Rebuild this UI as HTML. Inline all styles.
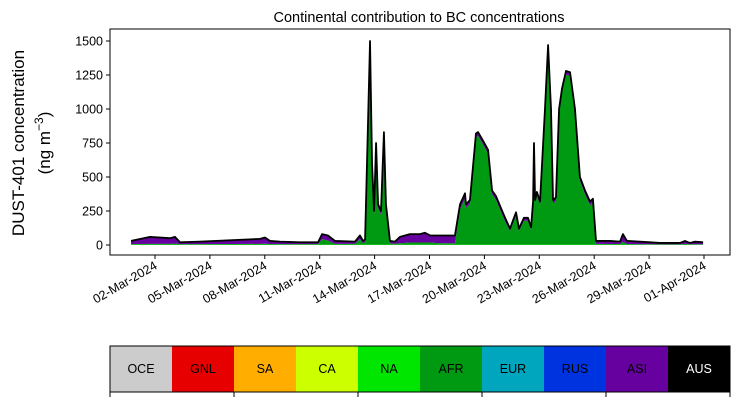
<!DOCTYPE html>
<html><head><meta charset="utf-8"><style>
body{margin:0;background:#fff;}
svg{display:block;font-family:"Liberation Sans","DejaVu Sans",sans-serif;}
</style></head><body>
<svg id="chart" width="739" height="402" viewBox="0 0 739 402">
<rect width="739" height="402" fill="#fff"/>
<text x="419" y="22" font-size="14.5" text-anchor="middle">Continental contribution to BC concentrations</text>
<text transform="translate(24,143) rotate(-90)" font-size="17" text-anchor="middle">DUST-401 concentration</text>
<text transform="translate(50,143) rotate(-90)" font-size="17" text-anchor="middle">(ng m<tspan baseline-shift="super" font-size="12">−3</tspan>)</text>
<g id="plot"></g>
<g id="cbar"></g>
</svg>
<script>
const days=[0.69,1.73,2.82,3.09,3.37,4.46,6.10,7.74,8.01,8.28,8.83,9.92,10.91,11.13,11.45,11.84,12.93,13.20,13.37,13.48,13.64,13.75,13.86,13.97,14.08,14.19,14.35,14.51,14.62,14.84,15.11,15.39,15.93,16.48,16.75,17.03,17.57,18.39,18.67,18.94,18.99,19.21,19.54,19.65,19.87,20.20,20.42,20.63,21.13,21.40,21.56,21.73,21.89,22.16,22.38,22.55,22.66,22.71,22.77,22.87,23.04,23.31,23.48,23.64,23.75,23.91,24.08,24.24,24.46,24.68,24.95,25.22,25.50,25.77,25.93,26.10,26.86,27.41,27.57,27.79,28.50,29.60,30.69,30.96,31.23,31.51,31.95];
const totals=[30,60,50,60,20,25,35,45,55,30,25,20,20,80,70,30,25,70,30,40,900,1500,600,250,750,300,250,830,300,30,25,60,80,80,90,70,70,70,300,380,300,330,820,830,780,700,400,360,200,120,180,240,120,200,200,130,320,750,330,390,320,1000,1470,1000,330,350,1000,1150,1280,1270,1000,500,400,320,340,30,30,25,80,30,25,15,15,30,15,25,20];
const afrVals=[3,5,5,8,3,3,4,5,6,4,3,3,3,40,30,5,5,40,10,20,860,1460,570,220,720,270,220,800,270,10,5,10,15,15,15,15,10,10,260,340,270,300,790,800,750,670,370,330,170,100,155,215,100,175,175,110,290,720,300,360,290,970,1440,970,300,320,970,1120,1250,1240,970,470,370,290,310,5,4,4,20,4,3,2,2,5,2,3,2];
const naVals=[3,3,3,3,3,3,3,3,3,3,3,3,3,3,3,3,3,3,3,3,3,3,3,3,3,3,3,3,3,3,3,3,3,3,3,3,3,3,3,3,3,3,3,3,3,3,3,3,3,3,3,3,3,3,3,3,3,3,3,3,3,3,3,3,3,3,3,3,3,3,3,3,3,3,3,3,3,3,3,3,3,3,3,3,3,3,3];
const yTicks=[0,250,500,750,1000,1250,1500];
const xTickDays=[2,5,8,11,14,17,20,23,26,29,32];
const xTickLabels=["02-Mar-2024","05-Mar-2024","08-Mar-2024","11-Mar-2024","14-Mar-2024","17-Mar-2024","20-Mar-2024","23-Mar-2024","26-Mar-2024","29-Mar-2024","01-Apr-2024"];
const regions=["OCE","GNL","SA","CA","NA","AFR","EUR","RUS","ASI","AUS"];
const regionColors=["#cccccc","#e60000","#ffae00","#ccff00","#00e600","#009912","#00a6bd","#0033e0","#66009e","#000000"];

const NS="http://www.w3.org/2000/svg";
const L=110,R=730,T=29,B=255;
const X=d=>155+(d-2)*18.3;
const Y=v=>245-v*0.136;
function mk(tag,attrs,parent){const e=document.createElementNS(NS,tag);for(const k in attrs)e.setAttribute(k,attrs[k]);parent.appendChild(e);return e;}
const plot=document.getElementById('plot');
function band(lo,hi,color,name){
  let d="M"+X(days[0])+","+Y(hi[0]);
  for(let i=1;i<days.length;i++)d+="L"+X(days[i])+","+Y(hi[i]);
  for(let i=days.length-1;i>=0;i--)d+="L"+X(days[i])+","+Y(lo[i]);
  const p=mk('path',{d:d+"Z",fill:color},plot);
  
  
}
const zero=days.map(()=>0);
const s1=naVals.slice();
const s2=naVals.map((v,i)=>v+afrVals[i]);
band(zero,zero.map(()=>1),"#ccff00","area-ca");
band(zero,s1,"#00e600","area-na");
band(s1,s2,"#009912","area-afr");
band(s2,totals,"#66009e","area-asi");
let ld="";
for(let i=0;i<days.length;i++)ld+=(i?"L":"M")+X(days[i])+","+Y(totals[i]);
const tl=mk('path',{d:ld,fill:"none",stroke:"#000","stroke-width":1.8,"stroke-linejoin":"round"},plot);


const fr=mk('rect',{x:L,y:T,width:R-L,height:B-T,fill:"none",stroke:"#000","stroke-width":1},plot);


yTicks.forEach(v=>{
  mk('line',{x1:L-4,x2:L,y1:Y(v),y2:Y(v),stroke:"#000"},plot);
  const t=mk('text',{x:L-7,y:Y(v)+4.5,"font-size":12.5,"text-anchor":"end"},plot);
  t.textContent=v;
  
  
});
xTickDays.forEach((d,i)=>{
  mk('line',{x1:X(d),x2:X(d),y1:B,y2:B+4,stroke:"#000"},plot);
  const t=mk('text',{transform:`translate(${X(d)+3},${B+13}) rotate(-30)`,"font-size":12.5,"text-anchor":"end"},plot);
  t.textContent=xTickLabels[i];
  
  
});
const cb=document.getElementById('cbar');
const cw=(R-L)/regions.length;
regions.forEach((r,i)=>{
  const rc=mk('rect',{x:L+i*cw,y:346,width:cw,height:46,fill:regionColors[i]},cb);
  
  
  const t=mk('text',{x:L+i*cw+cw/2,y:373,"font-size":12.5,"text-anchor":"middle",fill:r==="AUS"?"#fff":"#000"},cb);
  t.textContent=r;
  
  
});
mk('rect',{x:L,y:346,width:R-L,height:46,fill:"none",stroke:"#000"},cb);
for(let i=0;i<=regions.length;i+=2)mk('line',{x1:L+i*cw,x2:L+i*cw,y1:392,y2:397,stroke:"#000"},cb);
</script>
</body></html>
